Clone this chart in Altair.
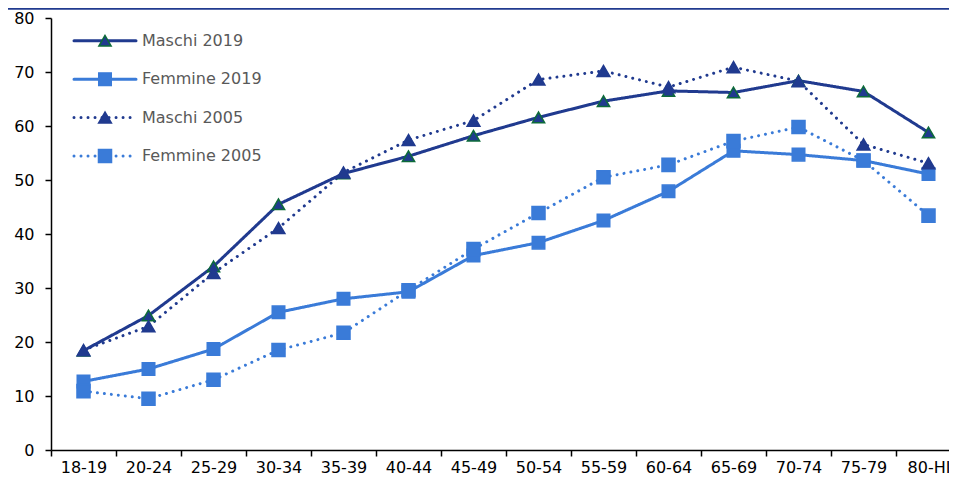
import altair as alt
import pandas as pd

categories = ["18-19", "20-24", "25-29", "30-34", "35-39", "40-44", "45-49",
              "50-54", "55-59", "60-64", "65-69", "70-74", "75-79", "80-HI"]
series = ["Maschi 2019", "Femmine 2019", "Maschi 2005", "Femmine 2005"]

maschi_2019 = [18.4, 24.9, 34.0, 45.5, 51.2, 54.4, 58.2, 61.6, 64.6, 66.5, 66.2, 68.4, 66.4, 58.8]
femmine_2019 = [12.7, 15.0, 18.7, 25.5, 28.0, 29.3, 36.0, 38.4, 42.5, 47.9, 55.4, 54.7, 53.6, 51.1]
maschi_2005 = [18.5, 22.9, 32.8, 41.1, 51.4, 57.4, 61.0, 68.6, 70.2, 67.2, 70.9, 68.3, 56.6, 53.1]
femmine_2005 = [10.9, 9.5, 13.0, 18.5, 21.7, 29.6, 37.2, 43.9, 50.5, 52.8, 57.2, 59.8, 53.6, 43.4]

values_by_series = [maschi_2019, femmine_2019, maschi_2005, femmine_2005]

rows = []
for name, vals in zip(series, values_by_series):
    for i, (c, v) in enumerate(zip(categories, vals)):
        rows.append({"eta": c, "idx": i, "serie": name, "valore": v})
df = pd.DataFrame(rows)
legend_df = pd.DataFrame({"serie": series})

NAVY = "#203a8f"
LIGHT = "#3a7bd8"
GREEN = "#0d6b3a"
FONT = "DejaVu Sans"

color_scale = alt.Scale(domain=series, range=[NAVY, LIGHT, NAVY, LIGHT])
dash_scale = alt.Scale(domain=series, range=[[1, 0], [1, 0], [0.01, 7], [0.01, 7]])
shape_scale = alt.Scale(domain=series, range=["triangle-up", "square", "triangle-up", "square"])
fill_scale = alt.Scale(domain=series, range=[NAVY, LIGHT, NAVY, LIGHT])
stroke_scale = alt.Scale(domain=series, range=[GREEN, LIGHT, NAVY, LIGHT])
size_scale = alt.Scale(domain=series, range=[150, 170, 150, 170])

x_enc = alt.X(
    "eta:N",
    sort=categories,
    scale=alt.Scale(domain=categories, range=[0, 910], paddingInner=0, paddingOuter=0),
    axis=alt.Axis(
        title=None, labelAngle=0, tickBand="extent", tickSize=6, tickWidth=1.5,
        tickColor="#000", domainColor="#000", domainWidth=1.5,
        labelFont=FONT, labelFontSize=16, labelColor="#000", labelPadding=3,
    ),
)
y_enc = alt.Y(
    "valore:Q",
    scale=alt.Scale(domain=[0, 80], nice=False, zero=True),
    axis=alt.Axis(
        title=None, values=[0, 10, 20, 30, 40, 50, 60, 70, 80], grid=False,
        tickSize=6, tickWidth=1.5, tickColor="#000", domainColor="#000", domainWidth=1.5,
        labelFont=FONT, labelFontSize=16, labelColor="#000", labelPadding=11,
    ),
)

lines = alt.Chart(df).mark_line(strokeWidth=3, strokeCap="round").encode(
    x=x_enc,
    y=y_enc,
    color=alt.Color("serie:N", scale=color_scale, legend=None),
    strokeDash=alt.StrokeDash("serie:N", scale=dash_scale, legend=None),
    detail="serie:N",
    order=alt.Order("idx:Q"),
)
points = alt.Chart(df).mark_point(filled=True, opacity=1, strokeWidth=1.5).encode(
    x=x_enc,
    y=y_enc,
    shape=alt.Shape("serie:N", scale=shape_scale, legend=None),
    fill=alt.Fill("serie:N", scale=fill_scale, legend=None),
    stroke=alt.Stroke("serie:N", scale=stroke_scale, legend=None),
    size=alt.Size("serie:N", scale=size_scale, legend=None),
)
main = alt.layer(lines, points)

ly = alt.Y("serie:N", scale=alt.Scale(type="point", domain=series, range=[22.7, 138], padding=0), axis=None)
leg_rule = alt.Chart(legend_df).mark_rule(strokeWidth=3, strokeCap="round").encode(
    x=alt.value(23), x2=alt.value(85), y=ly,
    color=alt.Color("serie:N", scale=color_scale, legend=None),
    strokeDash=alt.StrokeDash("serie:N", scale=dash_scale, legend=None),
)
leg_pt = alt.Chart(legend_df).mark_point(filled=True, opacity=1, strokeWidth=1.5).encode(
    x=alt.value(54), y=ly,
    shape=alt.Shape("serie:N", scale=shape_scale, legend=None),
    fill=alt.Fill("serie:N", scale=fill_scale, legend=None),
    stroke=alt.Stroke("serie:N", scale=stroke_scale, legend=None),
    size=alt.Size("serie:N", scale=size_scale, legend=None),
)
leg_text = alt.Chart(legend_df).mark_text(
    align="left", baseline="middle", font=FONT, fontSize=16, color="#595959"
).encode(x=alt.value(91), y=ly, text="serie:N")
legend = alt.layer(leg_rule, leg_pt, leg_text)

banner = alt.Chart(alt.Data(values=[{"b": 1}])).mark_rect(color=NAVY).encode(
    x=alt.value(-43), x2=alt.value(910), y=alt.value(-10), y2=alt.value(-8.3)
)

chart = alt.layer(main, legend, banner).resolve_scale(y="independent").properties(
    width=898, height=432,
    autosize=alt.AutoSizeParams(type="none"),
    padding={"left": 43, "top": 10, "right": 0, "bottom": 28},
    background="white",
).configure_view(stroke=None)

chart.save("out.html", embed_options={"renderer": "svg", "actions": False})
